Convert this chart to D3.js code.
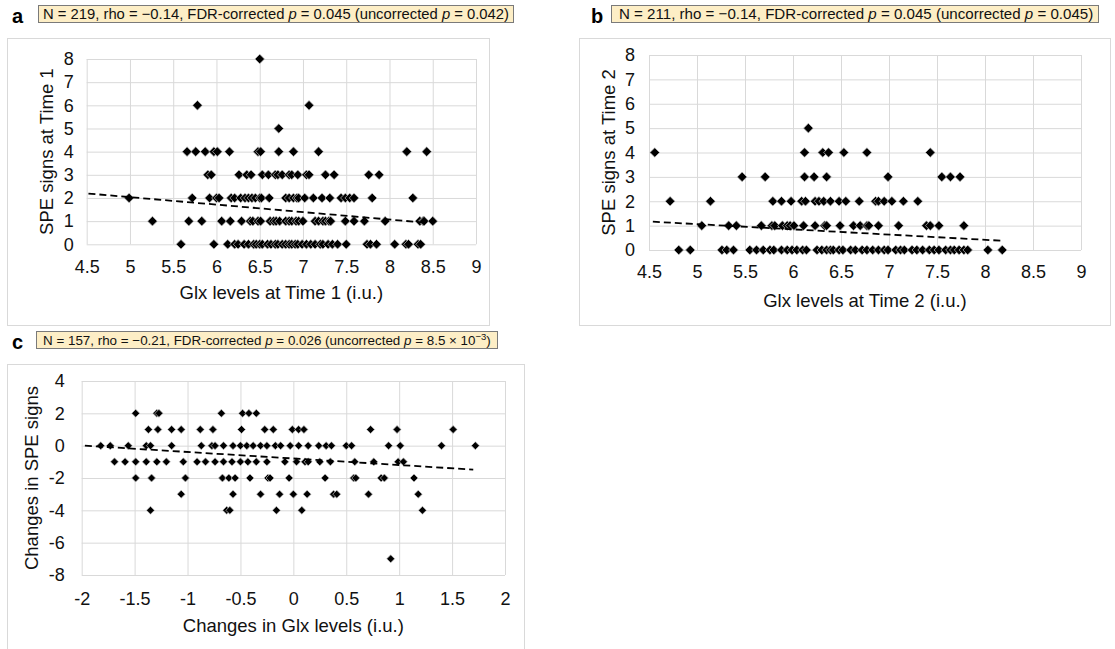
<!DOCTYPE html>
<html>
<head>
<meta charset="utf-8">
<script src="https://cdn.jsdelivr.net/npm/d3@7"></script>
<style>
  body { margin: 0; background: #fff; }
  svg { display: block; font-family: "Liberation Sans", Arial, sans-serif; }
</style>
</head>
<body>
<div id="chart"></div>
<script>
const width = 1115;
const height = 649;

// tick values
const glxTicks = [4.5, 5, 5.5, 6, 6.5, 7, 7.5, 8, 8.5, 9];
const speTicks = [0, 1, 2, 3, 4, 5, 6, 7, 8];
const glxChangeTicks = [-2, -1.5, -1, -0.5, 0, 0.5, 1, 1.5, 2];
const speChangeTicks = [-8, -6, -4, -2, 0, 2, 4];

// panel a: [SPE signs, Glx levels at Time 1]
const time1Points = [
  [8, [6.50]],
  [6, [5.78, 7.07]],
  [5, [6.72]],
  [4, [5.66, 5.76, 5.87, 5.97, 6.01, 6.15, 6.48, 6.51, 6.72, 6.89, 7.18, 8.20, 8.43]],
  [3, [5.90, 5.94, 6.26, 6.35, 6.40, 6.53, 6.60, 6.68, 6.71, 6.76, 6.84, 6.87, 6.94, 7.04, 7.07, 7.26, 7.36, 7.76, 7.88]],
  [2, [4.99, 5.72, 5.92, 6.00, 6.03, 6.17, 6.21, 6.28, 6.33, 6.37, 6.41, 6.45, 6.50, 6.52, 6.61, 6.80, 6.84, 6.89, 6.93, 6.95,
       7.02, 7.12, 7.22, 7.31, 7.44, 7.49, 7.54, 7.59, 7.80, 8.27]],
  [1, [5.26, 5.68, 5.83, 6.06, 6.16, 6.29, 6.39, 6.42, 6.48, 6.51, 6.62, 6.66, 6.69, 6.73, 6.80, 6.84, 6.87, 6.92, 6.95, 7.00,
       7.14, 7.18, 7.23, 7.26, 7.30, 7.32, 7.49, 7.59, 7.71, 7.95, 8.35, 8.39, 8.40, 8.50]],
  [0, [5.59, 5.97, 6.13, 6.21, 6.25, 6.32, 6.37, 6.43, 6.46, 6.50, 6.53, 6.59, 6.63, 6.68, 6.71, 6.76, 6.80, 6.84, 6.87, 6.91,
       6.94, 6.99, 7.04, 7.09, 7.14, 7.20, 7.23, 7.29, 7.34, 7.40, 7.50, 7.74, 7.78, 7.85, 8.06, 8.19, 8.22, 8.33, 8.36]]
];
const time1Trend = [[4.52, 2.19], [8.40, 0.94]];

// panel b: [SPE signs, Glx levels at Time 2]
const time2Points = [
  [5, [6.16]],
  [4, [4.56, 6.12, 6.31, 6.37, 6.53, 6.77, 7.43]],
  [3, [5.47, 5.71, 6.12, 6.22, 6.35, 6.99, 7.55, 7.64, 7.74]],
  [2, [4.72, 5.14, 5.79, 5.88, 5.98, 6.09, 6.13, 6.23, 6.27, 6.32, 6.39, 6.48, 6.55, 6.69, 6.86, 6.89, 6.95, 7.03, 7.15, 7.30]],
  [1, [5.05, 5.33, 5.41, 5.67, 5.78, 5.81, 5.89, 5.94, 5.97, 6.01, 6.11, 6.23, 6.33, 6.35, 6.49, 6.63, 6.70, 6.77, 6.79, 6.89,
       7.10, 7.39, 7.43, 7.52, 7.78]],
  [0, [4.81, 4.93, 5.26, 5.31, 5.38, 5.55, 5.62, 5.69, 5.76, 5.80, 5.88, 5.94, 5.99, 6.04, 6.10, 6.14, 6.25, 6.30, 6.35, 6.39,
       6.42, 6.48, 6.52, 6.60, 6.65, 6.72, 6.77, 6.83, 6.89, 6.95, 6.99, 7.07, 7.12, 7.16, 7.24, 7.29, 7.35, 7.42, 7.47, 7.52,
       7.59, 7.64, 7.68, 7.73, 7.78, 7.82, 8.03, 8.18]]
];
const time2Trend = [[4.54, 1.16], [8.18, 0.38]];

// panel c: [change in SPE signs, change in Glx levels]
const changePoints = [
  [2, [-1.49, -1.29, -1.27, -0.68, -0.48, -0.42, -0.35]],
  [1, [-1.37, -1.28, -1.15, -1.06, -0.88, -0.76, -0.49, -0.27, -0.19, -0.01, 0.05, 0.10, 0.73, 0.98, 1.51]],
  [0, [-1.82, -1.73, -1.56, -1.39, -1.35, -1.15, -0.87, -0.77, -0.74, -0.66, -0.57, -0.50, -0.44, -0.38, -0.31, -0.25,
       -0.17, -0.12, -0.03, 0.05, 0.14, 0.24, 0.31, 0.36, 0.50, 0.55, 0.90, 1.01, 1.40, 1.72]],
  [-1, [-1.69, -1.59, -1.49, -1.39, -1.29, -1.20, -1.04, -0.91, -0.83, -0.74, -0.66, -0.58, -0.50, -0.43, -0.35, -0.25,
        -0.08, 0.03, 0.11, 0.14, 0.25, 0.35, 0.58, 0.76, 0.99, 1.04]],
  [-2, [-1.49, -1.34, -1.02, -0.67, -0.61, -0.55, -0.41, -0.24, -0.22, -0.04, 0.30, 0.57, 0.59, 0.83, 0.86, 1.14]],
  [-3, [-1.06, -0.57, -0.31, -0.13, 0.00, 0.13, 0.38, 0.41, 0.71, 1.18]],
  [-4, [-1.35, -0.63, -0.60, -0.16, 0.08, 1.22]],
  [-7, [0.92]]
];
const changeTrend = [[-1.97, 0], [1.70, -1.48]];

const svg = d3.select("#chart").append("svg")
  .attr("width", width)
  .attr("height", height);

const flatten = rows => rows.flatMap(([yv, xs]) => xs.map(xv => ({x: xv, y: yv})));

function drawPanel(o) {
  // outer chart frame
  svg.append("rect")
    .attr("x", o.box[0] + 0.5).attr("y", o.box[1] + 0.5)
    .attr("width", o.box[2] - o.box[0]).attr("height", o.box[3] - o.box[1])
    .attr("fill", "#fff").attr("stroke", "#d9d9d9");

  const x = d3.scaleLinear().domain(d3.extent(o.xTicks)).range([o.left, o.right]);
  const y = d3.scaleLinear().domain(d3.extent(o.yTicks)).range([o.bottom, o.top]);

  const xAxis = svg.append("g")
    .attr("transform", `translate(0,${o.bottom})`)
    .call(d3.axisBottom(x).tickValues(o.xTicks).tickFormat(d => String(d))
      .tickSize(-(o.bottom - o.top)).tickPadding(o.xPad));
  const yAxis = svg.append("g")
    .attr("transform", `translate(${o.left},0)`)
    .call(d3.axisLeft(y).tickValues(o.yTicks).tickFormat(d => String(d))
      .tickSize(-(o.right - o.left)).tickPadding(o.yPad));

  [xAxis, yAxis].forEach(g => {
    g.select(".domain").remove();
    g.selectAll(".tick line").attr("stroke", "#d9d9d9");
    g.selectAll(".tick text")
      .attr("fill", "#111")
      .style("font-family", "'Liberation Sans', Arial, sans-serif")
      .style("font-size", "18px");
  });

  const r = o.r;
  svg.append("g").selectAll("path")
    .data(flatten(o.points))
    .join("path")
    .attr("transform", d => `translate(${x(d.x)},${y(d.y)})`)
    .attr("d", `M0,${-r}L${r},0L0,${r}L${-r},0Z`)
    .attr("fill", "#000")
    .attr("stroke", "#c4c4c4")
    .attr("stroke-width", 0.7);

  svg.append("path")
    .datum(o.trend)
    .attr("fill", "none")
    .attr("stroke", "#000")
    .attr("stroke-width", 1.8)
    .attr("stroke-dasharray", "7 4")
    .attr("d", d3.line().x(d => x(d[0])).y(d => y(d[1])));

  svg.append("text")
    .attr("x", (o.left + o.right) / 2)
    .attr("y", o.xTitleY)
    .attr("text-anchor", "middle")
    .style("font-size", "18.5px")
    .attr("fill", "#111")
    .text(o.xTitle);

  svg.append("text")
    .attr("transform", `translate(${o.yTitleX},${(o.top + o.bottom) / 2}) rotate(-90)`)
    .attr("text-anchor", "middle")
    .style("font-size", "18.5px")
    .attr("fill", "#111")
    .text(o.yTitle);
}

function drawHeader(h) {
  svg.append("text")
    .attr("x", h.labelX).attr("y", h.labelY)
    .style("font-size", "20px").style("font-weight", "bold")
    .text(h.label);

  svg.append("rect")
    .attr("x", h.box[0] + 0.5).attr("y", h.box[1] + 0.5)
    .attr("width", h.box[2] - h.box[0]).attr("height", h.box[3] - h.box[1])
    .attr("fill", "#fdeec6").attr("stroke", "#7a7a7a");

  const t = svg.append("text")
    .attr("x", h.textX).attr("y", h.textY)
    .style("font-size", h.size + "px")
    .attr("fill", "#111");
  h.parts.forEach(p => {
    const s = t.append("tspan").text(p.t);
    if (p.i) s.style("font-style", "italic");
    if (p.sup) s.attr("dy", "-0.45em").style("font-size", "9.5px");
    if (p.down) s.attr("dy", "0.32em");
  });
}

drawPanel({
  box: [7, 38, 489, 325],
  left: 86.7, right: 476, top: 59, bottom: 244.3,
  xTicks: glxTicks, yTicks: speTicks, xPad: 16, yPad: 13,
  points: time1Points, trend: time1Trend, r: 4.8,
  xTitle: "Glx levels at Time 1 (i.u.)", xTitleY: 299,
  yTitle: "SPE signs at Time 1", yTitleX: 53
});

drawPanel({
  box: [579, 38, 1110, 325],
  left: 649, right: 1081, top: 55, bottom: 250,
  xTicks: glxTicks, yTicks: speTicks, xPad: 15, yPad: 14,
  points: time2Points, trend: time2Trend, r: 4.8,
  xTitle: "Glx levels at Time 2 (i.u.)", xTitleY: 307,
  yTitle: "SPE signs at Time 2", yTitleX: 615
});

drawPanel({
  box: [7, 364, 524, 660],
  left: 81.7, right: 505, top: 381, bottom: 575,
  xTicks: glxChangeTicks, yTicks: speChangeTicks, xPad: 17, yPad: 17,
  points: changePoints, trend: changeTrend, r: 4,
  xTitle: "Changes in Glx levels (i.u.)", xTitleY: 632,
  yTitle: "Changes in SPE signs", yTitleX: 38
});

drawHeader({
  label: "a", labelX: 12, labelY: 23, size: 14.8,
  box: [38, 5, 513, 22], textX: 43, textY: 19,
  parts: [{t: "N = 219, rho = \u22120.14, FDR-corrected "}, {t: "p", i: true}, {t: " = 0.045 (uncorrected "},
          {t: "p", i: true}, {t: " = 0.042)"}]
});

drawHeader({
  label: "b", labelX: 591, labelY: 23, size: 15.1,
  box: [611, 5, 1098, 22], textX: 619, textY: 19,
  parts: [{t: "N = 211, rho = \u22120.14, FDR-corrected "}, {t: "p", i: true}, {t: " = 0.045 (uncorrected "},
          {t: "p", i: true}, {t: " = 0.045)"}]
});

drawHeader({
  label: "c", labelX: 12, labelY: 349, size: 13.4,
  box: [36, 331, 497, 348], textX: 43, textY: 344.5,
  parts: [{t: "N = 157, rho = \u22120.21, FDR-corrected "}, {t: "p", i: true}, {t: " = 0.026 (uncorrected "},
          {t: "p", i: true}, {t: " = 8.5 \u00d7 10"}, {t: "\u22123", sup: true}, {t: ")", down: true}]
});
</script>
</body>
</html>
